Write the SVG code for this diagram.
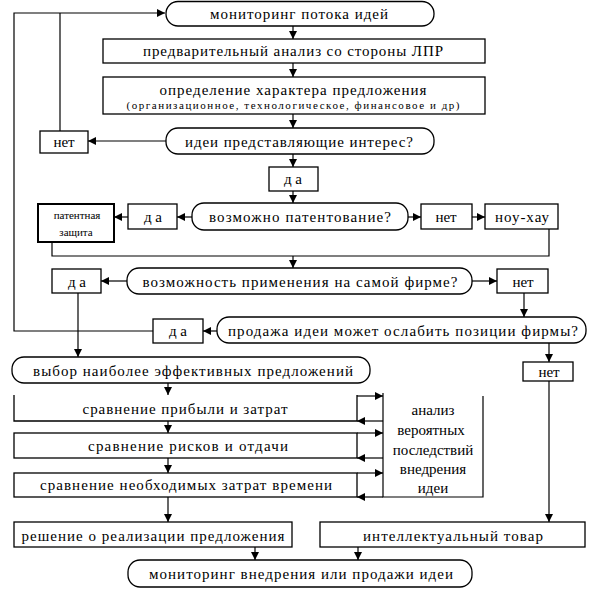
<svg xmlns="http://www.w3.org/2000/svg" width="600" height="596" viewBox="0 0 600 596">
<style>
.b{fill:#fff;stroke:#000;stroke-width:1.3}
.l{fill:none;stroke:#000;stroke-width:1.2}
.a{fill:none;stroke:#000;stroke-width:1.2;marker-end:url(#ah)}
text{font-family:'Times New Roman','Liberation Serif',serif;font-size:15px;fill:#000;text-anchor:middle;dominant-baseline:central}
.s{font-size:11px}
.t{font-size:11px}
</style>
<defs>
<marker id="ah" viewBox="0 0 8 8" refX="8" refY="4" markerWidth="8" markerHeight="8" markerUnits="userSpaceOnUse" orient="auto">
<path d="M0,0 L8,4 L0,8 z" fill="#000"/>
</marker>
</defs>
<rect x="0" y="0" width="600" height="596" fill="#fff"/>
<g id="connectors">
<path class="a" d="M153,331 H14 V13 H165"/>
<path class="l" d="M60,131 V13"/>
<path class="a" d="M293,26 V39"/>
<path class="a" d="M293,63 V77"/>
<path class="a" d="M293,114 V128"/>
<path class="a" d="M166,141 H88"/>
<path class="a" d="M293,154 V167"/>
<path class="a" d="M293,191 V203"/>
<path class="a" d="M192,217 H177"/>
<path class="a" d="M128,217 H114"/>
<path class="a" d="M408,217 H421"/>
<path class="a" d="M472,217 H485"/>
<path class="l" d="M52,242 V256 H549 V229"/>
<path class="a" d="M293,256 V268"/>
<path class="a" d="M127,281 H101"/>
<path class="a" d="M472,281 H497"/>
<path class="a" d="M524,293 V317"/>
<path class="a" d="M78,293 V357"/>
<path class="a" d="M217,331 H203"/>
<path class="a" d="M549,343 V362"/>
<path class="a" d="M549,381 V522"/>
<path class="a" d="M168,383 V395"/>
<path class="a" d="M168,421 V433"/>
<path class="a" d="M168,458 V473"/>
<path class="a" d="M168,497 V522"/>
<path class="a" d="M255,547 V560"/>
<path class="a" d="M358,547 V560"/>
<path class="a" d="M357,396 H383"/>
<path class="a" d="M383,421 H357"/>
<path class="a" d="M357,433 H383"/>
<path class="a" d="M383,458 H357"/>
<path class="a" d="M357,473 H383"/>
<path class="a" d="M383,497 H357"/>
</g>
<g id="n1"><rect class="b" x="166" y="1.5" width="268" height="24.5" rx="12"/><text x="299" y="14" textLength="178" lengthAdjust="spacing">мониторинг потока идей</text></g>
<g id="n2"><rect class="b" x="103" y="39" width="382" height="24"/><text x="293" y="51" textLength="300" lengthAdjust="spacing">предварительный анализ со стороны ЛПР</text></g>
<g id="n3"><rect class="b" x="103" y="77" width="382" height="37"/><text x="293" y="90" textLength="267" lengthAdjust="spacing">определение характера предложения</text><text class="s" x="293" y="105" textLength="333" lengthAdjust="spacing">(организационное, технологическое, финансовое и др)</text></g>
<g id="n4"><rect class="b" x="166" y="128" width="268" height="26" rx="12"/><text x="299" y="142" textLength="228" lengthAdjust="spacing">идеи представляющие интерес?</text></g>
<g id="n5"><rect class="b" x="40" y="131" width="48" height="22"/><text x="64" y="142">нет</text></g>
<g id="n6"><rect class="b" x="269" y="167" width="49" height="24"/><text x="293" y="179" textLength="18" lengthAdjust="spacing">да</text></g>
<g id="n7"><rect class="b" x="192" y="203" width="216" height="27" rx="12"/><text x="300" y="217" textLength="182" lengthAdjust="spacing">возможно патентование?</text></g>
<g id="n8"><rect class="b" x="128" y="204" width="49" height="25"/><text x="153" y="217" textLength="18" lengthAdjust="spacing">да</text></g>
<g id="n9"><rect class="b" x="38" y="204" width="76" height="38" style="stroke-width:2"/><text class="t" x="77" y="215">патентная</text><text class="t" x="76" y="232">защита</text></g>
<g id="n10"><rect class="b" x="421" y="204" width="51" height="25"/><text x="446" y="217">нет</text></g>
<g id="n11"><rect class="b" x="485" y="204" width="73" height="25"/><text x="522" y="217" textLength="54" lengthAdjust="spacing">ноу-хау</text></g>
<g id="n12"><rect class="b" x="127" y="268" width="345" height="26" rx="12"/><text x="300" y="282" textLength="315" lengthAdjust="spacing">возможность применения на самой фирме?</text></g>
<g id="n13"><rect class="b" x="52" y="269" width="49" height="24"/><text x="77" y="282" textLength="18" lengthAdjust="spacing">да</text></g>
<g id="n14"><rect class="b" x="497" y="269" width="51" height="24"/><text x="523" y="282">нет</text></g>
<g id="n15"><rect class="b" x="217" y="317" width="369" height="26" rx="12"/><text x="403" y="331" textLength="350" lengthAdjust="spacing">продажа идеи может ослабить позиции фирмы?</text></g>
<g id="n16"><rect class="b" x="153" y="319" width="50" height="24"/><text x="178" y="331" textLength="18" lengthAdjust="spacing">да</text></g>
<g id="n17"><rect class="b" x="12" y="357" width="358" height="26" rx="12"/><text x="193" y="371" textLength="320" lengthAdjust="spacing">выбор наиболее эффективных предложений</text></g>
<g id="n18"><rect class="b" x="523" y="362" width="50" height="19"/><text x="549" y="372">нет</text></g>
<g id="n19"><path class="b" d="M14,395 V421 H357 V395"/><text x="185" y="409" textLength="205" lengthAdjust="spacing">сравнение прибыли и затрат</text></g>
<g id="n20"><rect class="b" x="14" y="433" width="343" height="25"/><text x="188" y="446" textLength="200" lengthAdjust="spacing">сравнение рисков и отдачи</text></g>
<g id="n21"><rect class="b" x="14" y="473" width="343" height="24"/><text x="186" y="485" textLength="292" lengthAdjust="spacing">сравнение необходимых затрат времени</text></g>
<g id="n22"><path class="l" d="M383,393 V497 H483 V396"/><text x="433" y="410">анализ</text><text x="431" y="430">вероятных</text><text x="433" y="450">последствий</text><text x="433" y="469">внедрения</text><text x="433" y="488">идеи</text></g>
<g id="n23"><rect class="b" x="14" y="522" width="278" height="25"/><text x="153" y="536" textLength="263" lengthAdjust="spacing">решение о реализации предложения</text></g>
<g id="n24"><rect class="b" x="320" y="522" width="265" height="25"/><text x="453" y="536" textLength="180" lengthAdjust="spacing">интеллектуальный товар</text></g>
<g id="n25"><rect class="b" x="128" y="560" width="344" height="27" rx="12"/><text x="301" y="574" textLength="304" lengthAdjust="spacing">мониторинг внедрения или продажи идеи</text></g>
</svg>
